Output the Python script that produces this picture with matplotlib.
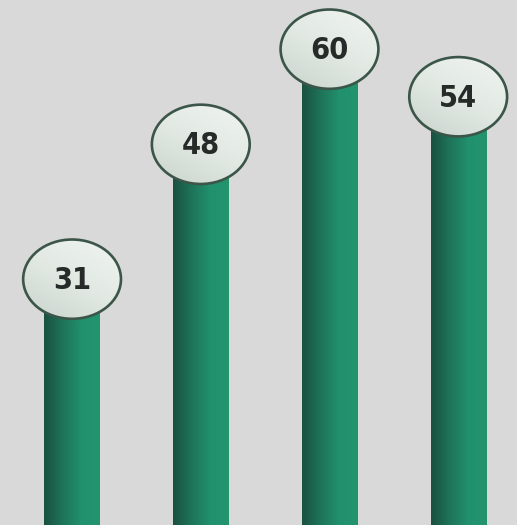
import numpy as np
import matplotlib.pyplot as plt
from matplotlib.patches import Ellipse
from matplotlib.colors import LinearSegmentedColormap

values = [31, 48, 60, 54]
labels = ['31', '48', '60', '54']

bg = '#d9d9d9'
bar_cmap = LinearSegmentedColormap.from_list('bar', ['#1a5141', '#1e7458', '#21906d', '#24946f'])
cap_cmap = LinearSegmentedColormap.from_list('cap', ['#c9d3cc', '#e2e9e3', '#f0f4f0'])

fig = plt.figure(figsize=(5.17, 5.25), dpi=100, facecolor=bg)
ax = fig.add_axes([0, 0, 1, 1])
ax.set_facecolor(bg)
ax.axis('off')

bar_w = 0.43
cap_w, cap_h = 0.76, 10.0
hgrad = np.linspace(0, 1, 64).reshape(1, -1)

for i, v in enumerate(values):
    # horizontal shading on the bar body
    ax.imshow(hgrad, cmap=bar_cmap, aspect='auto', interpolation='bilinear',
              extent=(i - bar_w / 2, i + bar_w / 2, 0, v), zorder=2)

    # elliptical cap with a soft diagonal gradient
    cap = Ellipse((i, v), cap_w, cap_h, facecolor='none',
                  edgecolor='#3b5649', linewidth=1.9, zorder=4)
    yy, xx = np.mgrid[0:1:64j, 0:1:64j]
    grad = 0.6 * yy + 0.4 * xx
    im = ax.imshow(grad, cmap=cap_cmap, origin='lower', aspect='auto',
                   interpolation='bilinear',
                   extent=(i - cap_w / 2, i + cap_w / 2, v - cap_h / 2, v + cap_h / 2),
                   zorder=3)
    im.set_clip_path(cap.get_path(), cap.get_patch_transform() + ax.transData)
    ax.add_patch(cap)

    ax.text(i, v - 0.2, labels[i], ha='center', va='center', fontsize=22,
            fontweight='bold', fontstretch='condensed', family='DejaVu Sans',
            color='#262a28', zorder=5)

ax.set_xlim(-0.56, 3.457)
ax.set_ylim(0, 66.2)
fig.savefig('out.png', dpi=100, facecolor=bg)
